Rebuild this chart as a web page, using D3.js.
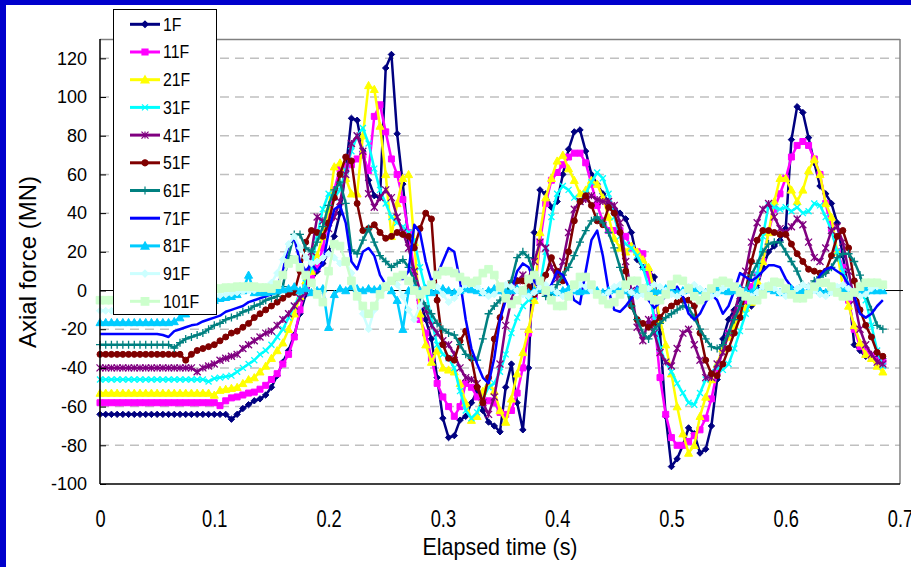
<!DOCTYPE html>
<html>
<head>
<meta charset="utf-8">
<script src="https://cdn.jsdelivr.net/npm/d3@7"></script>
<style>
  body { margin: 0; background: #fff; }
  svg { display: block; font-family: "Liberation Sans", Arial, sans-serif; }
</style>
</head>
<body>
<div class="canvas"></div>
<script>
// sampling step of the records (s)
const dt = 0.005;

// axial force (MN) per floor, one value every dt
const f1 = [
  -64,-64,-64,-64,-64,-64,-64,-64,-64,-64,
  -64,-64,-64,-64,-64,-64,-64,-64,-64,-64,
  -64,-64,-64,-66.5,-64,-61,-59,-57,-56,-54,
  -50,-44,-37,-31,-23,-12,-2,5,10,14,
  20,28,40,62,89,88,72,57,49,48,
  115,122,81,55,25,8,-5,-15,-25,-45,
  -66,-76,-75,-67,-65,-58,-52,-62,-68,-70,
  -73,-50,-38,-58,-72,-40,30,52,50,43,
  46,60,73,82,83,72,60,55,50,46,
  42,40,37,30,16,12,10,7,-22,-65,
  -91,-87,-80,-71,-74,-84,-82,-70,-46,-25,
  -15,-10,-4,-6,-8,2,12,20,23,26,
  32,78,95,92,79,66,54,50,45,35,
  18,0,-28,-31,-34,-34,-35,-35
];
const f11 = [
  -58,-58,-58,-58,-58,-58,-58,-58,-58,-58,
  -58,-58,-58,-58,-58,-58,-58,-58,-58,-58,
  -58,-59.5,-57,-55.5,-55,-54,-53,-52.5,-51,-49,
  -46,-43,-38,-33,-24,-10,2,6,12,22,
  38,52,63,64,65,68,70,62,90,96,
  82,68,60,47,30,10,-15,-22,-35,-48,
  -55,-60,-65,-60,-48,-50,-55,-58,-57,-58,
  -63,-64,-62,-53,-40,-22,-3,25,45,57,
  61,65,69,71,71,66,55,44,36,31,
  31,31,28,22,20,19,8,-14,-45,-64,
  -76,-80,-80,-78,-75,-72,-66,-56,-42,-30,
  -22,-16,-9,-5,2,8,15,30,42,50,
  58,69,75,77,75,68,60,45,32,20,
  12,-5,-20,-29,-31,-34,-36,-37
];
const f21 = [
  -53,-53,-53,-53,-53,-53,-53,-53,-53,-53,
  -53,-53,-53,-53,-53,-53,-53,-53,-53,-53,
  -54,-51.5,-51,-50.5,-50,-48,-46,-45,-42,-39,
  -35,-31,-27,-20,-12,-3,5,10,18,28,
  42,64,66,58,50,50,80,106,104,85,
  60,28,45,58,60,25,-12,-28,-37,-31,
  -40,-41,-42,-48,-58,-67,-65,-52,-48,-52,
  -62,-68,-56,-43,-32,-20,-5,30,48,58,
  67,70,63,57,50,52,57,55,48,38,
  27,22,20,23,20,16,12,0,-15,-28,
  -43,-60,-74,-84,-80,-65,-55,-46,-38,-30,
  -24,-18,-13,-9,-6,5,15,30,46,58,
  58,52,46,52,62,68,60,45,38,20,
  2,-8,-18,-27,-33,-35,-39,-42
];
const f31 = [
  -46,-46,-46,-46,-46,-46,-46,-46,-46,-46,
  -46,-46,-46,-46,-46,-46,-46,-46,-46,-47,
  -45.5,-45,-44.5,-44,-42,-40,-38,-36,-33,-31,
  -28,-24,-20,-14,-8,-2,4,12,28,42,
  50,48,52,62,72,80,84,76,63,52,
  45,38,35,33,30,26,12,0,-15,-28,
  -33,-35,-40,-52,-62,-66,-63,-56,-50,-48,
  -42,-33,-22,-14,-8,-5,-3,3,20,38,
  50,54,52,48,46,50,56,61,58,50,
  38,28,24,22,18,12,2,-15,-30,-37,
  -42,-48,-53,-58,-59,-53,-46,-42,-40,-41,
  -38,-30,-21,-12,-4,8,28,44,43,42,
  43,41,43,40,41,45,44,38,31,20,
  10,3,0,2,-5,-18,-31,-39
];
const f41 = [
  -40,-40,-40,-40,-40,-40,-40,-40,-40,-40,
  -40,-40,-40,-40,-40,-40,-40,-42,-40,-39,
  -38,-36,-35,-34,-33,-30,-28,-26,-24,-22,
  -21,-18,-15,-12,-8,-4,-1,20,38,36,
  32,38,46,60,76,80,72,50,43,48,
  52,48,38,30,22,10,0,-10,-18,-22,
  -26,-28,-33,-40,-45,-46,-48,-58,-64,-55,
  -38,-18,-5,5,8,6,15,25,22,12,
  6,15,30,42,46,47,49,47,46,46,
  44,35,15,0,-19,-26,-15,-22,-32,-37,
  -39,-30,-22,-20,-28,-36,-45,-45,-38,-32,
  -22,-12,0,10,25,35,42,45,38,32,
  30,33,37,34,25,17,15,22,31,33,
  25,10,-5,-20,-28,-33,-37,-38
];
const f51 = [
  -33,-33,-33,-33,-33,-33,-33,-33,-33,-33,
  -33,-33,-33,-33,-33,-36,-33,-31,-30,-29,
  -28,-26,-24,-22,-21,-19,-17,-14,-12,-10,
  -8,-6,-4,-2,-1,10,25,31,30,28,
  35,48,60,69,67,45,31,32,34,30,
  27,28,30,29,28,22,32,40,37,-5,
  -28,-35,-36,-26,-21,-35,-50,-58,-45,-25,
  -14,-3,4,5,5,2,-2,0,8,17,
  10,5,20,36,46,49,44,36,34,43,
  40,30,10,-8,-15,-17,-19,-17,-14,-10,
  -8,-6,-5,-5,-8,-22,-36,-43,-44,-38,
  -30,-22,-14,0,15,26,31,31,30,29,
  29,24,19,15,11,10,9,10,18,28,
  31,22,5,-10,-18,-24,-32,-34
];
const f61 = [
  -28,-28,-28,-28,-28,-28,-28,-28,-28,-28,
  -28,-28,-28,-29.7,-27,-25,-24,-23,-22,-20,
  -18,-17,-15,-14,-13,-11,-10,-8,-7,-5,
  -4,-3,2,18,29,29,22,20,25,33,
  44,52,56,45,21,19,26,32,25,18,
  15,12,14,16,12,5,-3,-8,-12,-17,
  -20,-22,-23,-28,-33,-35,-36,-25,-12,-8,
  -5,-2,5,17,20,17,8,2,-3,-2,
  3,8,12,18,25,31,36,38,35,30,
  22,12,2,-8,-15,-22,-25,-20,-17,-14,
  -12,-10,-8,-9,-14,-20,-25,-29,-30,-28,
  -22,-15,-8,0,8,14,20,24,25,25,
  20,15,10,3,2,5,7,9,12,17,
  19,19,15,8,-2,-10,-18,-20
];
const f71 = [
  -22.5,-22.5,-22.5,-22.5,-22.5,-22.5,-22.5,-22.5,-22.5,-22.5,
  -22.5,-23,-24,-21,-20,-19,-18,-17.5,-16,-15,
  -14,-13,-11,-10,-9,-8,-6,-5,-4,-3,
  -2,2,10,24,27,15,10,14,10,14,
  30,42,44,35,15,11,20,22,18,8,
  3,4,6,6,10,34,30,15,5,8,
  15,22,20,5,-15,-30,-38,-45,-48,-35,
  -15,-5,0,10,14,12,5,0,-2,3,
  10,8,2,-5,-7,10,26,31,18,0,
  -10,-11,-8,-4,2,0,-5,-9,-6,-3,
  -1,2,-3,-12,-15,-12,-6,-2,-5,-12,
  -8,0,9,7,5,7,10,13,13,12,
  6,2,0,-2,0,3,8,11,12,10,
  8,3,-3,-12,-14,-12,-8,-5
];
const f81 = [
  -16.5,-16.5,-16.5,-16.5,-16.5,-16.5,-16.5,-16.5,-16.5,-16.5,
  -16.5,-16.5,-16.5,-16,-14,-12,-10,-9,-7,-6,
  -5,-4,-3.5,-3,-2,0,8,-1,-1,-1,
  -0.5,0,0.5,1,2,0,1,-1,0,1,
  -19,-2,1,0,2,1,0,1,0.5,1,
  2,0,-5,-20,0,1,0,1,-1,0,
  1,0,-1,0,1,0.5,0,-1,0,1,
  0,-0.5,0,1,0,-1,0,0.5,1,0,
  -1,0,1,0,-0.5,0,1,0,-1,0,
  0.5,1,0,-1,0,1,0,-0.5,0,1,
  0,-1,0,0.5,1,0,-1,0,1,0,
  -0.5,0,1,0,-1,0,0.5,1,0,-1,
  0,1,0,-0.5,0,1,0,-1,0,0.5,
  1,0,-1,0,1,0,0,0
];
const f91 = [
  -10.5,-10.5,-10.5,-10.5,-10.5,-10.5,-10.5,-10.5,-10,-9.5,
  -9,-8.5,-8,-7.5,-7,-6,-5.5,-5,-4,-3.5,
  -3,-2.5,-2,-1.5,-1,-0.5,0,0,1,2,
  4,9,16,24,28,22,17,14,15,17,
  19,17,14,15,9,-2,-12,-20,-10,-2,
  3,5,3,-3,-10,-15,-8,0,3,2,
  -2,-6,-4,0,3,4,2,-1,-3,-2,
  1,3,2,0,-2,-3,-1,2,3,1,
  -1,-3,-2,1,3,2,0,-2,-3,-1,
  2,3,1,-1,-3,-2,1,3,2,0,
  -2,-3,-1,2,3,1,-1,-3,-2,1,
  3,2,0,-2,-3,-1,2,3,1,-1,
  -3,-2,1,3,2,0,-2,-3,-1,2,
  3,1,-1,-3,-2,1,2,2
];
const f101 = [
  -5,-5,-5,-5,-4.5,-4,-3.5,-3,-2.5,-2.5,
  -3,-2.5,-2,-1.5,-1,-0.5,0,0,0.5,0.5,
  1,1,1.5,1.5,2,2,2,2,1.5,1.5,
  1,3,8,14,16,12,8,4,-2,-6,
  10,24,23,15,5,-3,-8,-12,-8,-2,
  2,5,7,8,5,0,-2,0,3,8,
  10,10,9,7,5,4,5,9,11,8,
  2,-4,-7,-5,0,6,8,5,0,-5,
  -8,-8,-3,3,7,7,3,-2,-5,-7,
  -6,-2,3,5,5,1,-3,-5,-5,-2,
  3,6,5,1,-3,-5,-3,1,4,5,
  4,2,-1,-3,-5,-5,-2,2,4.5,4,
  1,-2,-4,-4,-2,2,4,4,2,-1,
  -3,-3,-1,2,4,4,4,3
];

const seriesNames = ['1F', '11F', '21F', '31F', '41F', '51F', '61F', '71F', '81F', '91F', '101F'];
const seriesData = [f1, f11, f21, f31, f41, f51, f61, f71, f81, f91, f101];
const seriesColors = ['#000080', '#FF00FF', '#FFFF00', '#00FFFF', '#800080', '#800000',
  '#008080', '#0000FF', '#00CCFF', '#CCFFFF', '#CCFFCC'];
const seriesMarkers = ['diamond', 'square', 'triangle', 'x', 'star', 'circle',
  'plus', 'none', 'triangle', 'diamond', 'square'];
const markerSizes = [3.2, 3, 4, 3, 3.5, 3, 4, 0, 4, 3.5, 3.8];

const yTicks = [-100, -80, -60, -40, -20, 0, 20, 40, 60, 80, 100, 120];
const xTicks = [0, 0.1, 0.2, 0.3, 0.4, 0.5, 0.6, 0.7];

const svg = d3.select('.canvas')
  .append('svg')
  .attr('width', 911)
  .attr('height', 567);

// blue frame of the slide
svg.append('rect').attr('x', 0).attr('y', 0).attr('width', 911).attr('height', 5).attr('fill', '#0000CC');
svg.append('rect').attr('x', 0).attr('y', 0).attr('width', 6).attr('height', 567).attr('fill', '#0000CC');

const margin = { top: 39, right: 11, bottom: 83, left: 100 };
const graphWidth = 911 - margin.left - margin.right;
const graphHeight = 567 - margin.top - margin.bottom;

const graph = svg.append('g')
  .attr('transform', `translate(${margin.left},${margin.top})`);

const x = d3.scaleLinear().domain([0, 0.7]).range([0, graphWidth]);
const y = d3.scaleLinear().domain([-100, 130]).range([graphHeight, 0]);

// gridlines
graph.selectAll('line.grid')
  .data(yTicks.filter(d => d !== -100 && d !== 0))
  .join('line')
  .attr('class', 'grid')
  .attr('x1', 0).attr('x2', graphWidth)
  .attr('y1', d => y(d)).attr('y2', d => y(d))
  .attr('stroke', '#C0C0C0')
  .attr('stroke-width', 1.5)
  .attr('stroke-dasharray', '9,6');

// plot area border
graph.append('line').attr('x1', 0).attr('x2', graphWidth).attr('y1', 0.5).attr('y2', 0.5)
  .attr('stroke', '#808080').attr('stroke-width', 1.5);
graph.append('line').attr('x1', graphWidth).attr('x2', graphWidth).attr('y1', 0).attr('y2', graphHeight)
  .attr('stroke', '#808080').attr('stroke-width', 1.5);

// zero line
graph.append('line').attr('x1', 0).attr('x2', graphWidth + 3).attr('y1', y(0)).attr('y2', y(0))
  .attr('stroke', '#000').attr('stroke-width', 1);

function markerPath(type, s) {
  switch (type) {
    case 'diamond': return `M0,${-s}L${s},0L0,${s}L${-s},0Z`;
    case 'square': return `M${-s},${-s}H${s}V${s}H${-s}Z`;
    case 'triangle': return `M0,${-s}L${s},${s * 0.8}L${-s},${s * 0.8}Z`;
    case 'x': return `M${-s},${-s}L${s},${s}M${-s},${s}L${s},${-s}`;
    case 'star': return `M${-s},${-s}L${s},${s}M${-s},${s}L${s},${-s}M0,${-s}V${s}`;
    case 'plus': return `M${-s},0H${s}M0,${-s}V${s}`;
    case 'circle': return d3.symbol(d3.symbolCircle, Math.PI * s * s)();
  }
  return '';
}
const openMarker = t => t === 'x' || t === 'star' || t === 'plus';

const line = d3.line()
  .x((d, i) => x(i * dt))
  .y(d => y(d));

// series, drawn in legend order
seriesData.forEach((data, k) => {
  const color = seriesColors[k];
  const type = seriesMarkers[k];
  const g = graph.append('g');
  g.append('path')
    .datum(data)
    .attr('d', line)
    .attr('fill', 'none')
    .attr('stroke', color)
    .attr('stroke-width', 2.5)
    .attr('stroke-linejoin', 'round');
  if (type !== 'none') {
    g.selectAll('path.m')
      .data(data)
      .join('path')
      .attr('class', 'm')
      .attr('transform', (d, i) => `translate(${x(i * dt)},${y(d)})`)
      .attr('d', markerPath(type, markerSizes[k]))
      .attr('fill', openMarker(type) ? 'none' : color)
      .attr('stroke', color)
      .attr('stroke-width', openMarker(type) ? 1.3 : 1);
  }
});

// axes
graph.append('line').attr('x1', 0).attr('x2', 0).attr('y1', 0).attr('y2', graphHeight)
  .attr('stroke', '#000').attr('stroke-width', 1.5);
graph.append('line').attr('x1', 0).attr('x2', graphWidth).attr('y1', graphHeight).attr('y2', graphHeight)
  .attr('stroke', '#000').attr('stroke-width', 1.5);

const yAxis = d3.axisLeft(y)
  .tickValues(yTicks)
  .tickSize(-6)
  .tickPadding(13)
  .tickFormat(d => d);
const yAxisGroup = graph.append('g').call(yAxis);
yAxisGroup.select('.domain').remove();
yAxisGroup.selectAll('text')
  .attr('font-size', 18)
  .attr('font-family', '"Liberation Sans", Arial, sans-serif')
  .attr('fill', '#000');
yAxisGroup.selectAll('line').attr('stroke', '#000');

const xAxis = d3.axisBottom(x)
  .tickValues(xTicks)
  .tickSize(0)
  .tickPadding(26)
  .tickFormat(d => String(+d.toFixed(1)));
const xAxisGroup = graph.append('g')
  .attr('transform', `translate(0,${graphHeight})`)
  .call(xAxis);
xAxisGroup.select('.domain').remove();
xAxisGroup.selectAll('text')
  .attr('font-size', 24)
  .attr('font-family', '"Liberation Sans", Arial, sans-serif')
  .attr('fill', '#000')
  .each(function () {
    const w = this.getComputedTextLength();
    d3.select(this).attr('textLength', w * 0.76).attr('lengthAdjust', 'spacingAndGlyphs');
  });

// axis titles
svg.append('text')
  .attr('x', 500)
  .attr('y', 555)
  .attr('text-anchor', 'middle')
  .attr('font-size', 24)
  .text('Elapsed time (s)')
  .each(function () {
    d3.select(this).attr('textLength', 155).attr('lengthAdjust', 'spacingAndGlyphs');
  });

svg.append('text')
  .attr('transform', 'translate(36,262) rotate(-90)')
  .attr('text-anchor', 'middle')
  .attr('font-size', 24)
  .text('Axial force (MN)');

// legend
const legend = svg.append('g');
legend.append('rect')
  .attr('x', 113.5).attr('y', 9.5)
  .attr('width', 103).attr('height', 305)
  .attr('fill', '#fff')
  .attr('stroke', '#000')
  .attr('stroke-width', 1);

const entries = legend.selectAll('g.entry')
  .data(seriesNames)
  .join('g')
  .attr('class', 'entry')
  .attr('transform', (d, i) => `translate(0,${24.3 + i * 27.7})`);

entries.append('line')
  .attr('x1', 130).attr('x2', 160)
  .attr('y1', 0).attr('y2', 0)
  .attr('stroke', (d, i) => seriesColors[i])
  .attr('stroke-width', 3);

entries.filter((d, i) => seriesMarkers[i] !== 'none')
  .append('path')
  .attr('transform', 'translate(145,0)')
  .attr('d', d => {
    const i = seriesNames.indexOf(d);
    return markerPath(seriesMarkers[i], markerSizes[i]);
  })
  .attr('fill', d => {
    const i = seriesNames.indexOf(d);
    return openMarker(seriesMarkers[i]) ? 'none' : seriesColors[i];
  })
  .attr('stroke', d => seriesColors[seriesNames.indexOf(d)])
  .attr('stroke-width', 1.2);

entries.append('text')
  .attr('x', 163)
  .attr('y', 0)
  .attr('dy', '0.36em')
  .attr('font-size', 18)
  .text(d => d)
  .each(function () {
    const w = this.getComputedTextLength();
    d3.select(this).attr('textLength', w * 0.88).attr('lengthAdjust', 'spacingAndGlyphs');
  });
</script>
</body>
</html>
